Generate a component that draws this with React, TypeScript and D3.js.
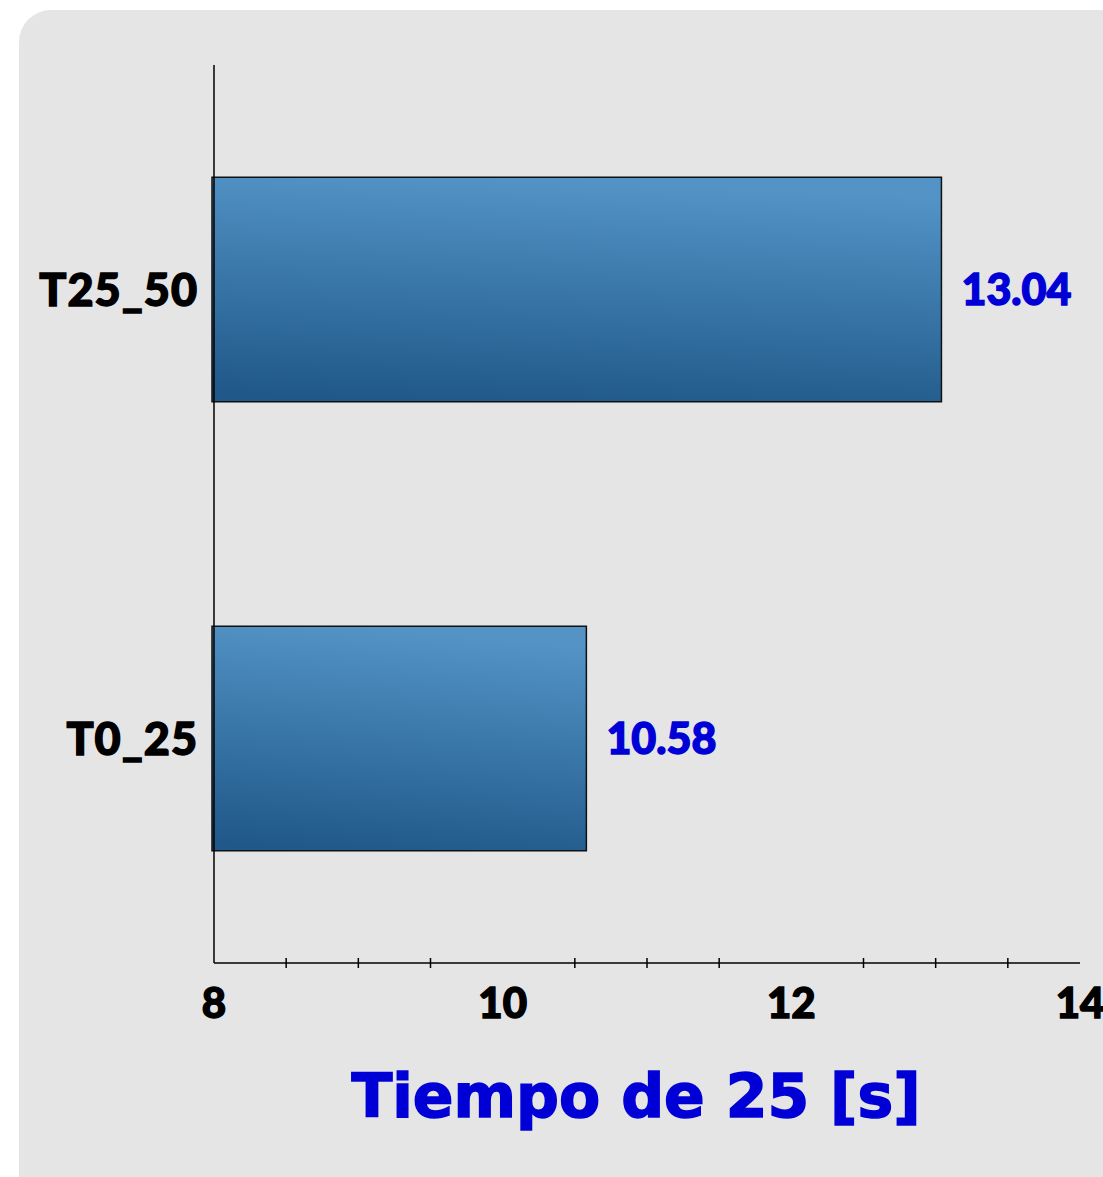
import * as d3 from "d3";
import React from "react";

const categories = ["T25_50", "T0_25"];
const values = [13.04, 10.58];
const xTicks = [8, 10, 12, 14];
const xMinorTicks = [8.5, 9, 9.5, 10.5, 11, 11.5, 12.5, 13, 13.5];
const axisTitle = "Tiempo de 25 [s]";

const W = 1103;
const H = 1177;
const left = 214;
const right = 1080;
const top = 65;
const bottom = 963;

const labelFont = "Lato, 'Noto Sans', sans-serif";

const App = () => {
  const x = d3.scaleLinear().domain([8, 14]).range([left, right]);
  const y = d3.scaleBand<string>().domain(categories).range([top, bottom]).paddingInner(0.5).paddingOuter(0.25);

  return (
    <svg width={W} height={H} style={{ position: "absolute", left: 0, top: 0, background: "#fff" }}>
      <defs>
        <linearGradient id="barGrad" x1="0.25" y1="1" x2="0.4" y2="0">
          <stop offset="0" stopColor="#1f5889" />
          <stop offset="1" stopColor="#5393c6" />
        </linearGradient>
      </defs>
      <rect x={19} y={10} width={W + 40} height={H + 40} rx={32} fill="#e5e5e5" />

      {categories.map((c, i) => (
        <g key={c}>
          <rect
            x={x(8) - 2}
            y={y(c)}
            width={x(values[i]) - x(8) + 2}
            height={y.bandwidth()}
            fill="url(#barGrad)"
            stroke="#111"
            strokeWidth={1.5}
          />
          <text
            x={x(values[i]) + 20}
            y={(y(c) ?? 0) + y.bandwidth() / 2}
            dy="0.36em"
            fontFamily={labelFont}
            fontWeight={900}
            fontSize={43}
            fill="#0000d6"
            stroke="#0000d6"
            strokeWidth={1.4}
          >
            {values[i].toFixed(2)}
          </text>
          <text
            x={198}
            y={(y(c) ?? 0) + y.bandwidth() / 2}
            dy="0.36em"
            textAnchor="end"
            fontFamily={labelFont}
            fontWeight={900}
            fontSize={45}
            letterSpacing={1}
            fill="#000"
            stroke="#000"
            strokeWidth={1.4}
          >
            {c}
          </text>
        </g>
      ))}

      <line x1={left} x2={left} y1={top} y2={bottom} stroke="#000" strokeWidth={1.5} />
      <line x1={left} x2={right} y1={bottom} y2={bottom} stroke="#000" strokeWidth={1.5} />
      {xMinorTicks.map((t) => (
        <line key={t} x1={x(t)} x2={x(t)} y1={bottom - 5} y2={bottom + 5} stroke="#000" strokeWidth={1.5} />
      ))}
      {xTicks.map((t) => (
        <text
          key={t}
          x={x(t)}
          y={1018}
          textAnchor="middle"
          fontFamily={labelFont}
          fontWeight={900}
          fontSize={42}
          fill="#000"
          stroke="#000"
          strokeWidth={1.4}
        >
          {t}
        </text>
      ))}
      <text
        x={636}
        y={1117}
        textAnchor="middle"
        fontFamily="'DejaVu Sans', Verdana, sans-serif"
        fontWeight="bold"
        fontSize={60}
        fill="#0000d6"
        stroke="#0000d6"
        strokeWidth={1.5}
      >
        {axisTitle}
      </text>
    </svg>
  );
};

export default App;
